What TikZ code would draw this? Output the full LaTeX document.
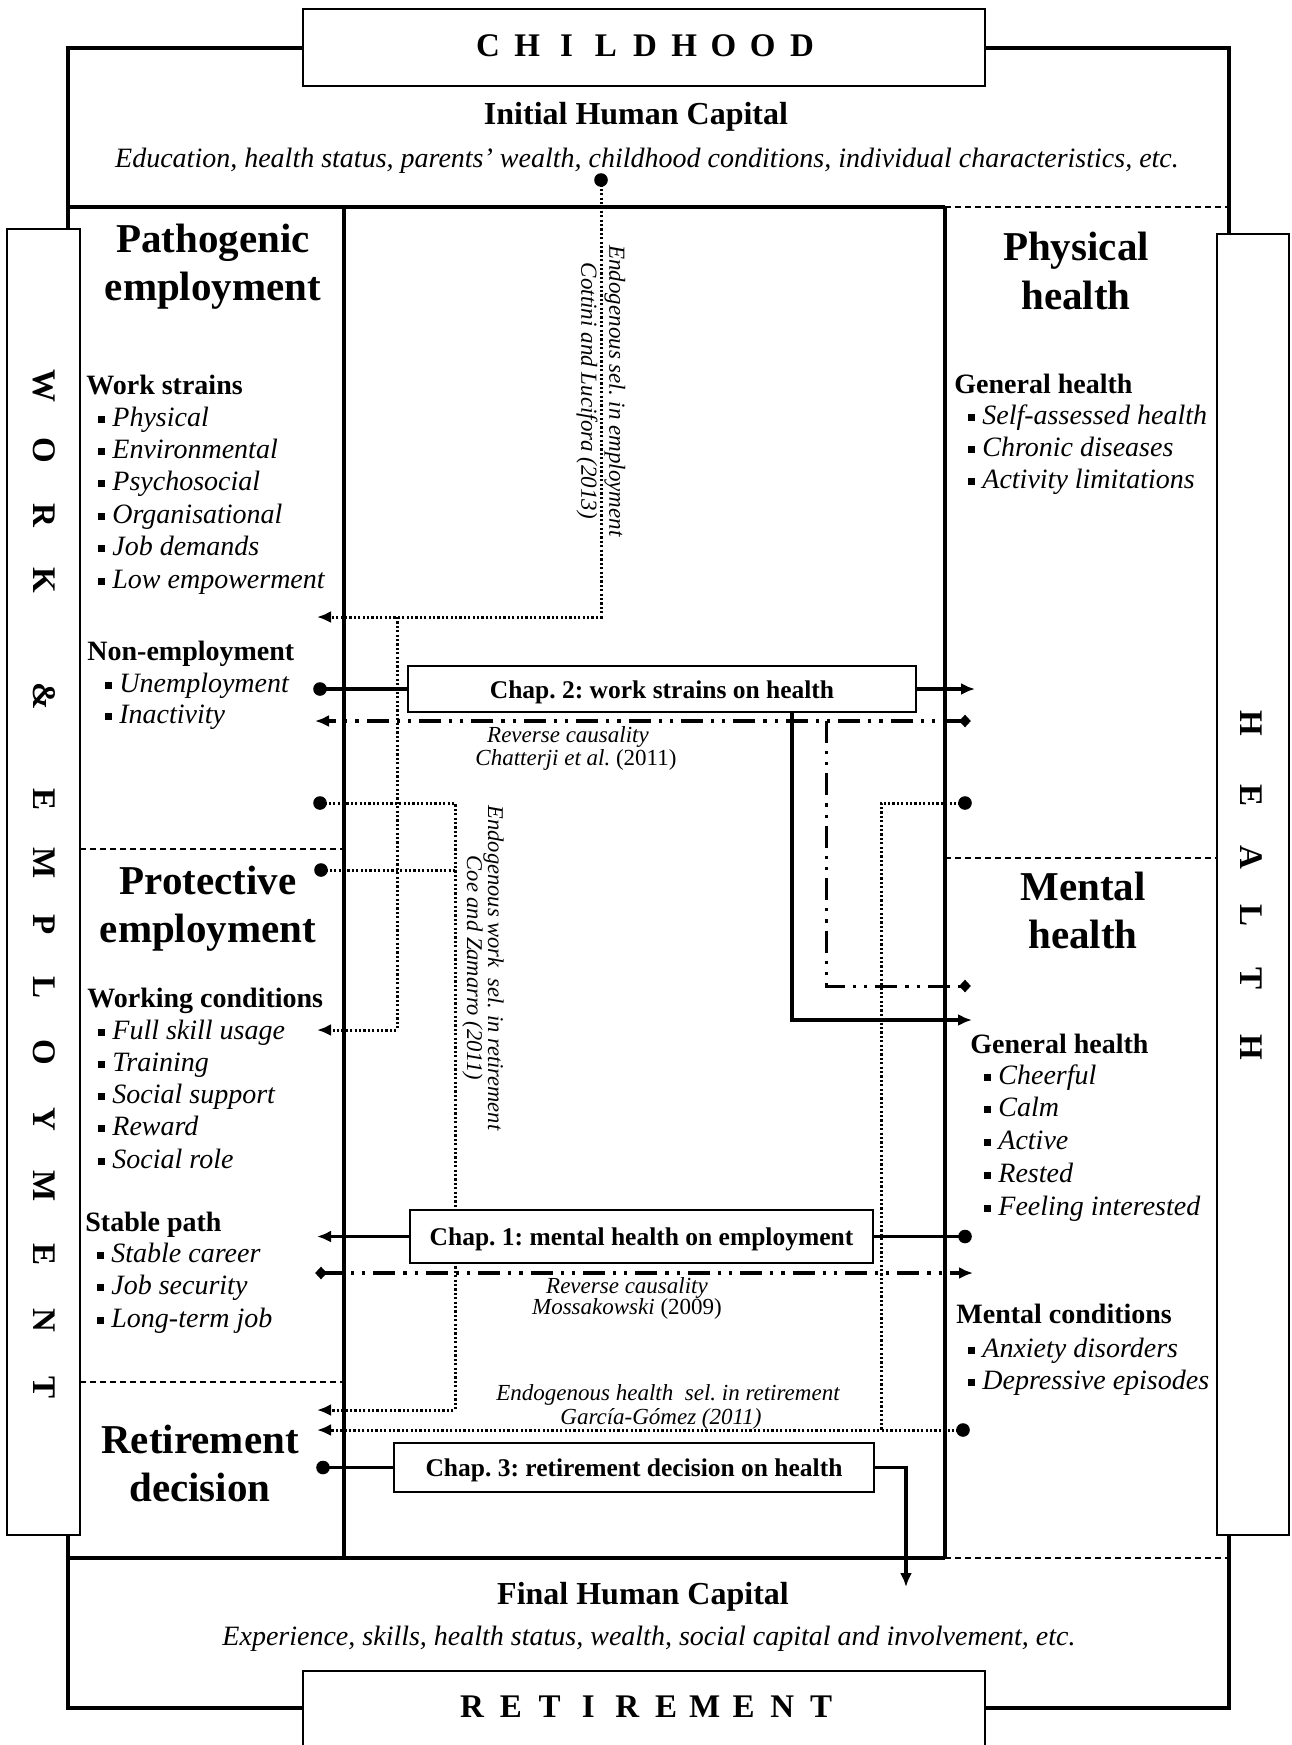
\documentclass[tikz,border=0pt]{standalone}
\usepackage{fontspec}
\setmainfont{Liberation Serif}
\usetikzlibrary{arrows.meta,shapes.geometric}
\newcommand\bl{\rule[0.12em]{3.4pt}{3.4pt}\hspace{3.6pt}}
\frenchspacing
\begin{document}
\frenchspacing
\begin{tikzpicture}[x=0.5pt,y=-0.5pt,
  frame/.style={line width=2.3pt},
  thinbox/.style={draw, line width=1pt, fill=white, inner sep=0pt},
  chapbox/.style={draw, line width=1pt, fill=white, inner sep=0pt, font=\fontsize{12.75}{15}\selectfont\bfseries, text height=11pt, text depth=2pt},
  sep/.style={line width=0.8pt, dash pattern=on 3pt off 2pt},
  dotl/.style={line width=1.5pt, dash pattern=on 1.1pt off 1.1pt},
  solidc/.style={line width=1.8pt},
  ddot/.style={line width=1.8pt, dash pattern=on 11pt off 4pt on 1.6pt off 4pt on 1.6pt off 4pt},
  tip/.style={-{Latex[length=7pt,width=6pt]}},
  dotn/.style={circle, fill, inner sep=0pt, minimum size=6.8pt},
  dian/.style={diamond, fill, inner sep=0pt, minimum width=6pt, minimum height=6.5pt},
  big/.style={inner sep=0pt, font=\fontsize{20.5}{24}\selectfont\bfseries, text height=16pt, text depth=3pt},
  sub/.style={anchor=west, inner sep=0pt, font=\fontsize{14}{16}\selectfont\bfseries, text height=12pt, text depth=2pt},
  item/.style={anchor=west, inner sep=0pt, font=\fontsize{14}{16}\selectfont\itshape, text height=12pt, text depth=2pt},
  hcap/.style={inner sep=0pt, font=\fontsize{16}{19}\selectfont\bfseries, text height=14pt, text depth=3pt},
  hcapit/.style={inner sep=0pt, font=\fontsize{14}{16}\selectfont\itshape, text height=12pt, text depth=2pt},
  small/.style={inner sep=0pt, font=\fontsize{11.5}{13}\selectfont\itshape, text height=10pt, text depth=2.5pt},
  rsmall/.style={inner sep=0pt, rotate=-90, align=center},
  vlet/.style={inner sep=0pt, font=\fontsize{16.5}{19}\selectfont\bfseries, rotate=-90},
  hlet/.style={inner sep=0pt, font=\fontsize{16.5}{19}\selectfont\bfseries}
]
\useasboundingbox (0,0) rectangle (1291,1745);
\fill[white] (0,0) rectangle (1291,1745);
% ---------- frame ----------
\draw[frame] (68,48) rectangle (1229,1708);
\draw[frame] (68,207) -- (945,207);
\draw[frame] (68,1558) -- (945,1558);
\draw[sep] (945,207) -- (1229,207);
\draw[sep] (945,1558) -- (1229,1558);
\draw[frame] (344,207) -- (344,1558);
\draw[frame] (945,207) -- (945,1558);
\draw[sep] (80,849) -- (344,849);
\draw[sep] (80,1382) -- (344,1382);
\draw[sep] (945,858) -- (1217,858);
% ---------- boxes ----------
\node[thinbox, minimum width=341pt, minimum height=38.5pt] (child) at (644,47.5) {};
\node[thinbox, minimum width=341pt, minimum height=38.5pt] (retire) at (644,1709.5) {};
\node[thinbox, minimum width=36.5pt, minimum height=653pt] (we) at (43.5,882) {};
\node[thinbox, minimum width=36pt, minimum height=650.5pt] (health) at (1253,884.5) {};
\foreach \l [count=\i from 0] in {C,H,I,L,D,H,O,O,D}
  \node[hlet] (chl\i) at ({488+39.25*\i},46) {\l};
\foreach \l [count=\i from 0] in {R,E,T,I,R,E,M,E,N,T}
  \node[hlet] (rtl\i) at ({472+38.8*\i},1707) {\l};
\foreach \l/\y [count=\i] in {W/386,O/450,R/515,K/580,\&/696,E/799,M/863,P/925,L/987,O/1052,Y/1119,M/1186,E/1254,N/1320,T/1387}
  \node[vlet] (wel\i) at (44,\y) {\l};
\foreach \l/\y [count=\i] in {H/723,E/795,A/857,L/915,T/978,H/1047}
  \node[vlet] (hel\i) at (1251,\y) {\l};
% ---------- dotted connectors (crossing boxes) ----------
\node[dotn] (dA) at (601,180) {};
\coordinate (aA1) at (317,617);
\coordinate (jA) at (397,617);
\coordinate (aA2) at (317,1030);
\draw[dotl, tip] (dA.center) |- (aA1);
\draw[dotl, tip] (jA) |- (aA2);
\node[dotn] (dD1) at (320,803) {};
\node[dotn] (dD2) at (321,870) {};
\coordinate (jD1) at (455,803);
\coordinate (jD2) at (455,870);
\coordinate (aD) at (317,1410);
\draw[dotl, tip] (dD1.center) -- (jD1) |- (aD);
\draw[dotl] (dD2.center) -- (jD2);
\node[dotn] (dE1) at (965,803) {};
\node[dotn] (dE2) at (963,1430) {};
\coordinate (jE1) at (881,803);
\coordinate (jE2) at (881,1430);
\coordinate (aE) at (317,1430);
\draw[dotl, tip] (dE1.center) -- (jE1) |- (aE);
\draw[dotl] (dE2.center) -- (jE2);
% ---------- reverse causality ----------
\node[dian] (dC1) at (965,721) {};
\node[dian] (dC2) at (965,986) {};
\coordinate (aC) at (315,721);
\coordinate (jC) at (826,721);
\draw[ddot, tip] (dC1.center) -- (aC);
\draw[ddot, line width=1.5pt] (jC) |- (dC2.center);
\node[dian] (dG) at (321,1273) {};
\coordinate (aG) at (973,1273);
\draw[ddot, tip] (dG.center) -- (aG);
% ---------- chapter boxes ----------
\node[chapbox, minimum width=254pt, minimum height=23pt] (ch2) at (662,689) {Chap. 2: work strains on health};
\node[chapbox, minimum width=231.5pt, minimum height=26.5pt] (ch1) at (641.5,1236.5) {Chap. 1: mental health on employment};
\node[chapbox, minimum width=240pt, minimum height=24.5pt] (ch3) at (634,1467.5) {Chap. 3: retirement decision on health};
\node[dotn] (dB) at (320,689) {};
\coordinate (aB1) at (975,689);
\coordinate (jB) at (792,700.5);
\coordinate (aB2) at (972,1020);
\draw[solidc] (dB.center) -- (ch2.west);
\draw[solidc, tip] (ch2.east) -- (aB1);
\draw[solidc, tip] (ch2.south -| jB) |- (aB2);
\coordinate (aF) at (317,1236.5);
\node[dotn] (dF) at (965,1236.5) {};
\draw[solidc, tip] (ch1.west) -- (aF);
\draw[solidc] (ch1.east) -- (dF.center);
\node[dotn] (dH) at (323,1467.5) {};
\coordinate (aH) at (906,1587);
\draw[solidc] (dH.center) -- (ch3.west);
\draw[solidc, tip] (ch3.east) -| (aH);
% ---------- top / bottom texts ----------
\node[hcap] (ihc) at (636,113) {Initial Human Capital};
\node[hcapit] (edu) at (647,157) {Education, health status, parents’ wealth, childhood conditions, individual characteristics, etc.};
\node[hcap] (fhc) at (643,1593) {Final Human Capital};
\node[hcapit] (exp) at (649,1635) {Experience, skills, health status, wealth, social capital and involvement, etc.};
% ---------- left column ----------
\node[big] (pg1) at (213,239) {Pathogenic};
\node[big] (pg2) at (213,287) {employment};
\node[sub] (ws) at (86,384) {Work strains};
\node[item] (ws1) at (98,416) {\bl Physical};
\node[item] (ws2) at (98,448) {\bl Environmental};
\node[item] (ws3) at (98,480) {\bl Psychosocial};
\node[item] (ws4) at (98,513) {\bl Organisational};
\node[item] (ws5) at (98,545) {\bl Job demands};
\node[item] (ws6) at (98,578) {\bl Low empowerment};
\node[sub] (ne) at (87,650) {Non-employment};
\node[item] (ne1) at (105,682) {\bl Unemployment};
\node[item] (ne2) at (105,713) {\bl Inactivity};
\node[big] (pr1) at (208,881) {Protective};
\node[big] (pr2) at (208,929) {employment};
\node[sub] (wc) at (87,997) {Working conditions};
\node[item] (wc1) at (98,1029) {\bl Full skill usage};
\node[item] (wc2) at (98,1061) {\bl Training};
\node[item] (wc3) at (98,1093) {\bl Social support};
\node[item] (wc4) at (98,1125) {\bl Reward};
\node[item] (wc5) at (98,1158) {\bl Social role};
\node[sub] (sp) at (85,1221) {Stable path};
\node[item] (sp1) at (97,1252) {\bl Stable career};
\node[item] (sp2) at (97,1284) {\bl Job security};
\node[item] (sp3) at (97,1317) {\bl Long-term job};
\node[big] (rd1) at (200,1440) {Retirement};
\node[big] (rd2) at (200,1488) {decision};
% ---------- right column ----------
\node[big] (ph1) at (1076,247) {Physical};
\node[big] (ph2) at (1076,296) {health};
\node[sub] (gh) at (954,383) {General health};
\node[item] (gh1) at (968,414) {\bl Self-assessed health};
\node[item] (gh2) at (968,446) {\bl Chronic diseases};
\node[item] (gh3) at (968,478) {\bl Activity limitations};
\node[big] (mh1) at (1083,887) {Mental};
\node[big] (mh2) at (1083,935) {health};
\node[sub] (mg) at (970,1043) {General health};
\node[item] (mg1) at (984,1074) {\bl Cheerful};
\node[item] (mg2) at (984,1106) {\bl Calm};
\node[item] (mg3) at (984,1139) {\bl Active};
\node[item] (mg4) at (984,1172) {\bl Rested};
\node[item] (mg5) at (984,1205) {\bl Feeling interested};
\node[sub] (mc) at (956,1313) {Mental conditions};
\node[item] (mc1) at (968,1347) {\bl Anxiety disorders};
\node[item] (mc2) at (968,1379) {\bl Depressive episodes};
% ---------- connector labels ----------
\node[rsmall, font=\fontsize{11.5}{14}\selectfont\itshape] (lA) at (601,391) {Endogenous sel. in employment\\Cottini and Lucifora (2013)};
\node[rsmall, font=\fontsize{11.25}{10.5}\selectfont\itshape] (lD) at (483,968) {Endogenous work\ \ sel. in retirement\\Coe and Zamarro (2011)};
\node[small] (lC1) at (568,735) {Reverse causality};
\node[small] (lC2) at (576,758) {Chatterji et al. \upshape(2011)};
\node[small] (lG1) at (627,1286) {Reverse causality};
\node[small] (lG2) at (627,1307) {Mossakowski \upshape(2009)};
\node[small] (lE1) at (668,1393) {Endogenous health\ \ sel. in retirement};
\node[small] (lE2) at (661,1417) {García-Gómez (2011)};
\end{tikzpicture}
\end{document}
